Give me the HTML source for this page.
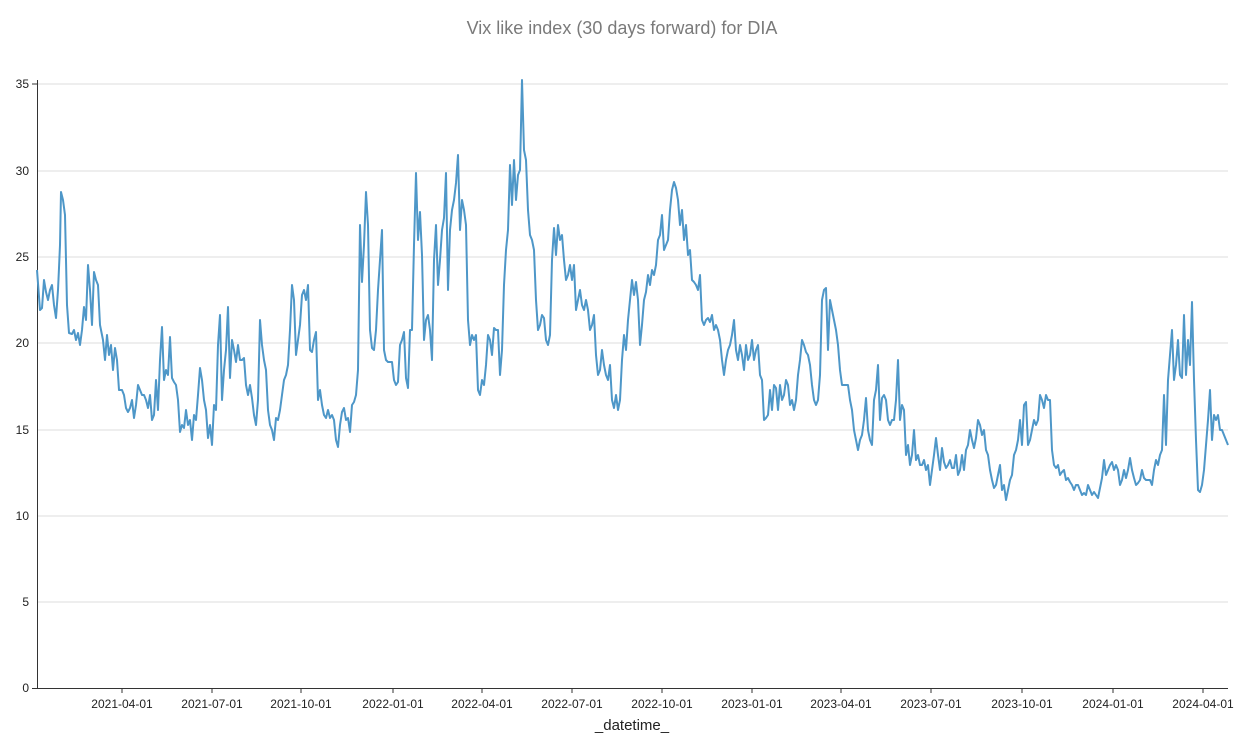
<!DOCTYPE html>
<html><head><meta charset="utf-8"><style>
html,body{margin:0;padding:0;background:#fff;}
svg{display:block;font-family:"Liberation Sans",sans-serif;}
</style></head><body>
<svg width="1244" height="740" viewBox="0 0 1244 740">
<text x="622" y="34" text-anchor="middle" font-size="18" fill="#7a7a7a">Vix like index (30 days forward) for DIA</text>
<g stroke="#dddddd" stroke-width="1">
<line x1="37" x2="1228" y1="602" y2="602"/>
<line x1="37" x2="1228" y1="516" y2="516"/>
<line x1="37" x2="1228" y1="430" y2="430"/>
<line x1="37" x2="1228" y1="343" y2="343"/>
<line x1="37" x2="1228" y1="257" y2="257"/>
<line x1="37" x2="1228" y1="171" y2="171"/>
<line x1="37" x2="1228" y1="84" y2="84"/>
</g>
<g stroke="#333" stroke-width="1" fill="none">
<line x1="37.5" x2="37.5" y1="80" y2="688"/>
<line x1="37" x2="1228" y1="688.5" y2="688.5"/>
</g>
<g font-size="12" fill="#222" text-anchor="end">
<text x="29" y="692">0</text><text x="29" y="606">5</text><text x="29" y="520">10</text>
<text x="29" y="434">15</text><text x="29" y="347">20</text><text x="29" y="261">25</text>
<text x="29" y="175">30</text><text x="29" y="88">35</text>
</g>
<g stroke="#333"><line x1="32" x2="37" y1="688.5" y2="688.5"/><line x1="32" x2="37" y1="84" y2="84"/></g>
<g font-size="12" fill="#222" text-anchor="middle">
<text x="122" y="708">2021-04-01</text><text x="212" y="708">2021-07-01</text><text x="301" y="708">2021-10-01</text>
<text x="393" y="708">2022-01-01</text><text x="482" y="708">2022-04-01</text><text x="572" y="708">2022-07-01</text>
<text x="662" y="708">2022-10-01</text><text x="752" y="708">2023-01-01</text><text x="841" y="708">2023-04-01</text>
<text x="931" y="708">2023-07-01</text><text x="1022" y="708">2023-10-01</text><text x="1113" y="708">2024-01-01</text>
<text x="1203" y="708">2024-04-01</text>
</g>
<g stroke="#333">
<line x1="122" x2="122" y1="688" y2="693"/><line x1="212" x2="212" y1="688" y2="693"/><line x1="301" x2="301" y1="688" y2="693"/><line x1="393" x2="393" y1="688" y2="693"/><line x1="482" x2="482" y1="688" y2="693"/><line x1="572" x2="572" y1="688" y2="693"/><line x1="662" x2="662" y1="688" y2="693"/><line x1="752" x2="752" y1="688" y2="693"/><line x1="841" x2="841" y1="688" y2="693"/><line x1="931" x2="931" y1="688" y2="693"/><line x1="1022" x2="1022" y1="688" y2="693"/><line x1="1113" x2="1113" y1="688" y2="693"/><line x1="1203" x2="1203" y1="688" y2="693"/>
</g>
<text x="632" y="730" text-anchor="middle" font-size="15" fill="#222">_datetime_</text>
<polyline fill="none" stroke="#4e97c8" stroke-width="2" stroke-linejoin="round" points="37,270 40,310 42,308 44,280 46,292 48,300 50,290 52,285 54,305 56,318 58,290 59,268 60,245 61,192 63,200 65,215 67,305 69,333 72,334 74,330 76,340 78,333 80,345 82,330 84,307 86,320 88,265 90,290 92,325 94,272 96,280 98,285 100,325 103,340 105,360 107,335 109,355 111,345 113,370 115,348 117,360 119,390 122,390 124,395 126,408 128,412 130,408 132,400 134,418 136,405 138,385 140,390 142,395 144,395 146,400 148,408 150,395 152,420 154,415 156,380 158,410 160,360 162,327 164,380 166,370 168,375 170,337 172,378 174,382 176,385 178,400 180,432 182,425 184,428 186,410 188,425 190,420 192,440 194,415 196,420 198,395 200,368 202,380 204,400 206,410 208,438 210,425 212,445 214,405 216,410 218,345 220,315 222,400 224,370 226,350 228,307 230,378 232,340 234,350 236,362 238,345 240,360 242,360 244,358 246,385 248,395 250,385 252,398 254,415 256,425 258,400 260,320 262,345 264,360 266,370 268,410 270,425 272,430 274,440 276,418 278,420 280,410 282,395 284,380 286,375 288,365 290,330 292,285 294,300 296,355 298,340 300,325 302,295 304,290 306,300 308,285 310,350 312,352 314,340 316,332 318,400 320,390 322,405 324,415 326,418 328,410 330,418 332,415 334,420 336,440 338,447 340,425 342,412 344,408 346,420 348,418 350,432 352,405 354,402 356,395 358,370 360,225 362,282 364,245 366,192 368,225 370,330 372,348 374,350 376,330 378,290 380,260 382,230 384,350 386,360 388,362 390,362 392,362 394,380 396,385 398,382 400,345 402,340 404,332 406,378 408,388 410,330 412,330 414,245 416,173 418,240 420,212 422,255 424,340 426,320 428,315 430,330 432,360 434,260 436,225 438,285 440,260 442,230 444,218 446,173 448,290 450,230 452,210 454,200 456,183 458,155 460,230 462,200 464,210 466,225 468,320 470,345 472,335 474,340 476,335 478,390 480,395 482,380 484,385 486,365 488,335 490,340 492,355 494,328 496,330 498,330 500,375 502,350 504,285 506,250 508,230 510,165 512,205 514,160 516,200 518,175 520,170 522,80 524,150 526,160 528,210 530,235 532,240 534,250 536,300 538,330 540,325 542,315 544,318 546,340 548,345 550,335 552,260 554,228 556,255 558,225 560,240 562,235 564,260 566,280 568,275 570,265 572,280 574,265 576,310 578,300 580,290 582,305 584,310 586,300 588,310 590,330 592,325 594,315 596,355 598,375 600,370 602,350 604,365 606,375 608,380 610,365 612,400 614,408 616,395 618,410 620,400 622,360 624,335 626,350 628,320 630,300 632,280 634,295 636,282 638,300 640,345 642,325 644,300 646,292 648,275 650,285 652,270 654,275 656,265 658,240 660,235 662,215 664,250 666,245 668,240 670,210 672,190 674,182 676,188 678,200 680,225 682,210 684,240 686,225 688,255 690,250 692,280 694,282 696,285 698,290 700,275 702,320 704,325 706,320 708,318 710,322 712,315 714,330 716,325 718,330 720,340 722,360 724,375 726,360 728,350 730,345 732,335 734,320 736,350 738,360 740,345 742,355 744,370 746,345 748,360 750,355 752,340 754,360 756,350 758,345 760,375 762,380 764,420 766,418 768,415 770,390 772,410 774,385 776,388 778,410 780,385 782,400 784,395 786,380 788,385 790,405 792,400 794,410 796,400 798,375 800,360 802,340 804,345 806,352 808,355 810,365 812,385 814,400 816,405 818,400 820,375 822,300 824,290 826,288 828,350 830,300 832,310 834,320 836,330 838,345 840,370 842,385 844,385 846,385 848,385 850,400 852,410 854,430 856,440 858,450 860,440 862,435 864,420 866,398 868,430 870,440 872,445 874,400 876,390 878,365 880,420 882,398 884,395 886,400 888,420 890,425 892,420 894,420 896,400 898,360 900,420 902,405 904,410 906,455 908,445 910,465 912,455 914,430 916,460 918,455 920,465 922,465 924,460 926,470 928,465 930,485 932,470 934,455 936,438 938,455 940,470 942,448 944,462 946,468 948,465 950,460 952,468 954,468 956,455 958,475 960,470 962,455 964,470 966,450 968,445 970,430 972,440 974,448 976,438 978,420 980,425 982,435 984,430 986,450 988,455 990,470 992,480 994,488 996,485 998,475 1000,465 1002,490 1004,485 1006,500 1008,490 1010,480 1012,475 1014,455 1016,450 1018,440 1020,420 1022,445 1024,405 1026,402 1028,445 1030,440 1032,430 1034,420 1036,425 1038,420 1040,395 1042,400 1044,408 1046,395 1048,400 1050,400 1052,450 1054,465 1056,468 1058,465 1060,475 1062,472 1064,470 1066,480 1068,478 1070,482 1072,485 1074,490 1076,485 1078,485 1080,490 1082,495 1084,493 1086,495 1088,485 1090,490 1092,495 1094,492 1096,495 1098,498 1100,488 1102,478 1104,460 1106,475 1108,470 1110,465 1112,462 1114,470 1116,465 1118,470 1120,485 1122,480 1124,470 1126,478 1128,470 1130,458 1132,470 1134,478 1136,485 1138,483 1140,480 1142,470 1144,478 1146,480 1148,480 1150,480 1152,485 1154,470 1156,460 1158,465 1160,455 1162,450 1164,395 1166,445 1168,380 1170,355 1172,330 1174,380 1176,365 1178,340 1180,375 1182,378 1184,315 1186,375 1188,340 1190,365 1192,302 1194,380 1196,440 1198,490 1200,492 1202,485 1204,470 1206,445 1208,420 1210,390 1212,440 1214,415 1216,420 1218,415 1220,430 1222,430 1224,435 1226,440 1228,445"/>
</svg>
</body></html>
